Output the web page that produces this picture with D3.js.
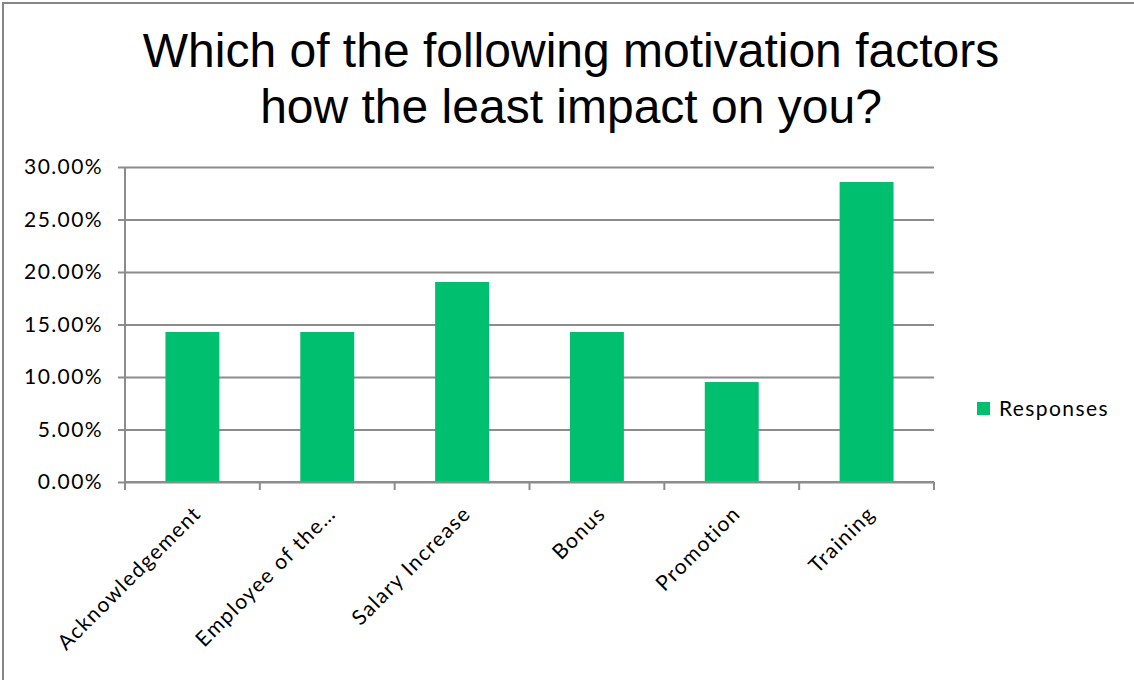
<!DOCTYPE html>
<html>
<head>
<meta charset="utf-8">
<script src="https://cdn.jsdelivr.net/npm/d3@7"></script>
<style>
  html, body { margin: 0; padding: 0; background: #fff; }
  svg { display: block; }
</style>
</head>
<body>
<svg id="chart" width="1134" height="680"></svg>
<script>
// Survey results: share of responses per motivation factor
const categories = ["Acknowledgement", "Employee of the\u2026", "Salary Increase", "Bonus", "Promotion", "Training"];
const responses = [0.1429, 0.1429, 0.1905, 0.1429, 0.0952, 0.2857];
const yTicks = [0, 0.05, 0.10, 0.15, 0.20, 0.25, 0.30];
const titleLines = ["Which of the following motivation factors", "how the least impact on you?"];
const seriesName = "Responses";

const W = 1134, H = 680;
const svg = d3.select("#chart");
const barColor = "#00bf6f";
const gridColor = "#8c8c8c";
const labelFont = "Lato, 'Open Sans', sans-serif";
const labelSize = 21;
const labelSpacing = 1.4;

// Outer chart frame (runs off the right and bottom edges)
svg.append("rect")
  .attr("x", 3).attr("y", 3)
  .attr("width", W + 20).attr("height", H + 20)
  .attr("fill", "#fff")
  .attr("stroke", "#868686").attr("stroke-width", 2);

// Title
svg.append("g").selectAll("text")
  .data(titleLines)
  .join("text")
  .attr("x", 571)
  .attr("y", (d, i) => 67 + i * 56)
  .attr("text-anchor", "middle")
  .attr("font-family", "'Liberation Sans', Arial, sans-serif")
  .attr("font-size", 48)
  .attr("fill", "#000")
  .text(d => d);

const plot = { left: 125, right: 934, top: 167, bottom: 482 };

const x = d3.scaleBand()
  .domain(categories)
  .range([plot.left, plot.right])
  .paddingInner(0.6)
  .paddingOuter(0.3);

const y = d3.scaleLinear()
  .domain([0, 0.30])
  .range([plot.bottom, plot.top]);

// Horizontal gridlines with left tick marks and percentage labels
const yAxis = d3.axisLeft(y)
  .tickValues(yTicks)
  .tickFormat(d => d3.format(".2f")(d * 100) + "%")
  .tickSize(-(plot.right - plot.left))
  .tickPadding(22);

const gy = svg.append("g")
  .attr("transform", `translate(${plot.left},0)`)
  .call(yAxis);
gy.select(".domain").remove();
gy.selectAll(".tick line")
  .attr("x1", -7)
  .attr("stroke", gridColor).attr("stroke-width", 2);
gy.selectAll(".tick text")
  .attr("font-family", labelFont)
  .attr("font-size", labelSize)
  .attr("letter-spacing", labelSpacing)
  .attr("fill", "#000");

// Vertical axis line
svg.append("line")
  .attr("x1", plot.left).attr("x2", plot.left)
  .attr("y1", plot.top).attr("y2", plot.bottom)
  .attr("stroke", gridColor).attr("stroke-width", 2);

// Bars
svg.append("g").selectAll("rect")
  .data(categories.map((c, i) => ({ c, v: responses[i] })))
  .join("rect")
  .attr("x", d => x(d.c))
  .attr("y", d => y(d.v))
  .attr("width", x.bandwidth())
  .attr("height", d => y(0) - y(d.v))
  .attr("fill", barColor);

// Category axis: boundary ticks between categories
const boundaries = d3.range(categories.length + 1).map(i => plot.left + i * (plot.right - plot.left) / categories.length);
const gx = svg.append("g");
gx.append("line")
  .attr("x1", plot.left).attr("x2", plot.right)
  .attr("y1", plot.bottom).attr("y2", plot.bottom)
  .attr("stroke", gridColor).attr("stroke-width", 2);
gx.selectAll("line.tk")
  .data(boundaries)
  .join("line")
  .attr("class", "tk")
  .attr("x1", d => d).attr("x2", d => d)
  .attr("y1", plot.bottom).attr("y2", plot.bottom + 8)
  .attr("stroke", gridColor).attr("stroke-width", 2);

// Rotated category labels
gx.selectAll("text")
  .data(categories)
  .join("text")
  .attr("transform", d => `translate(${x(d) + x.bandwidth() / 2 + 10},${plot.bottom + 33}) rotate(-45)`)
  .attr("text-anchor", "end")
  .attr("font-family", labelFont)
  .attr("font-size", labelSize)
  .attr("letter-spacing", labelSpacing)
  .attr("fill", "#000")
  .text(d => d);

// Legend
const lg = svg.append("g").attr("transform", "translate(977,402)");
lg.append("rect").attr("width", 13).attr("height", 13).attr("fill", barColor);
lg.append("text")
  .attr("x", 22).attr("y", 14)
  .attr("font-family", labelFont)
  .attr("font-size", labelSize)
  .attr("letter-spacing", labelSpacing)
  .attr("fill", "#000")
  .text(seriesName);
</script>
</body>
</html>
